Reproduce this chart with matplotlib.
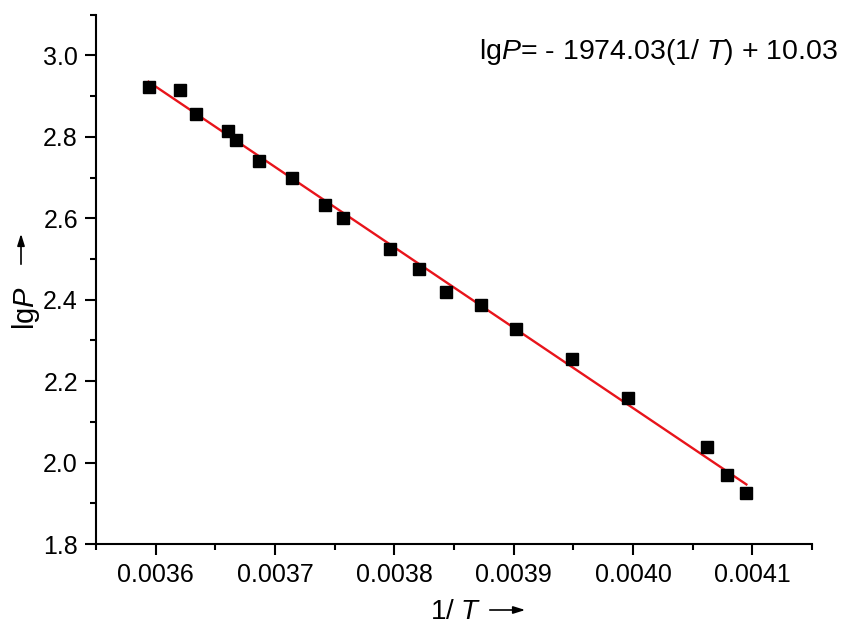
import numpy as np
import matplotlib
matplotlib.use("Agg")
import matplotlib.pyplot as plt

plt.rcParams['font.family'] = ['Liberation Sans', 'DejaVu Sans']
plt.rcParams['mathtext.fontset'] = 'custom'
plt.rcParams['mathtext.rm'] = 'Liberation Sans'
plt.rcParams['mathtext.it'] = 'Liberation Sans:italic'

inv_T = [0.003594, 0.003620, 0.003634, 0.003661, 0.003667, 0.003687, 0.003714,
         0.003742, 0.003757, 0.003796, 0.003821, 0.003843, 0.003873, 0.003902,
         0.003949, 0.003996, 0.004062, 0.004079, 0.004095]
lgP = [2.923, 2.915, 2.857, 2.815, 2.793, 2.741, 2.699, 2.633, 2.601, 2.525,
       2.476, 2.419, 2.387, 2.328, 2.255, 2.159, 2.038, 1.970, 1.925]
slope = -1974.03
intercept = 10.03
equation = "lg$P$= - 1974.03(1/ $T$) + 10.03"
x_ticks = [0.0036, 0.0037, 0.0038, 0.0039, 0.0040, 0.0041]
y_ticks = [1.8, 2.0, 2.2, 2.4, 2.6, 2.8, 3.0]

fig = plt.figure(figsize=(8.52, 6.26), dpi=100)
ax = fig.add_axes([96/852, 1-544/626, (812-96)/852, (544-14.7)/626])

xfit = np.array([min(inv_T), max(inv_T)])
ax.plot(xfit, slope*xfit + intercept, color='#e8141b', lw=1.7, zorder=2)
ax.plot(inv_T, lgP, 's', color='black', ms=9, zorder=3)

ax.set_xlim(0.00355, 0.00415)
ax.set_ylim(1.8, 3.1)
ax.set_xticks(x_ticks)
ax.set_xticklabels([f"{v:.4f}" for v in x_ticks])
ax.set_xticks(np.arange(0.00355, 0.004151, 0.0001), minor=True)
ax.set_yticks(y_ticks)
ax.set_yticklabels([f"{v:.1f}" for v in y_ticks])
ax.set_yticks([1.9, 2.1, 2.3, 2.5, 2.7, 2.9, 3.1], minor=True)

for s in ['top', 'right']:
    ax.spines[s].set_visible(False)
for s in ['left', 'bottom']:
    ax.spines[s].set_linewidth(1.5)
ax.tick_params(which='major', direction='out', length=8, width=1.5, labelsize=18)
ax.tick_params(which='minor', direction='out', length=4.5, width=1.5)
ax.tick_params(axis='x', which='major', pad=6)
ax.tick_params(axis='y', which='major', pad=5)

fig.text(658/852, 1-59/626, equation, fontsize=20.5, ha='center', va='baseline')

# x label with arrow
fig.text(430/852, 1-619/626, "1/ $T$", fontsize=20, ha='left', va='baseline')
ax.annotate('', xy=(528/852, 1-610/626), xytext=(487/852, 1-610/626),
            xycoords='figure fraction',
            arrowprops=dict(arrowstyle='-|>,head_length=0.7,head_width=0.22', color='black', lw=1.2))
# y label with arrow
fig.text(26/852, 1-308/626, "lg$P$", fontsize=21, ha='center', va='center', rotation=90)
ax.annotate('', xy=(21/852, 1-231/626), xytext=(21/852, 1-267/626),
            xycoords='figure fraction',
            arrowprops=dict(arrowstyle='-|>,head_length=0.7,head_width=0.22', color='black', lw=1.2))

fig.savefig("out.png", dpi=100)
